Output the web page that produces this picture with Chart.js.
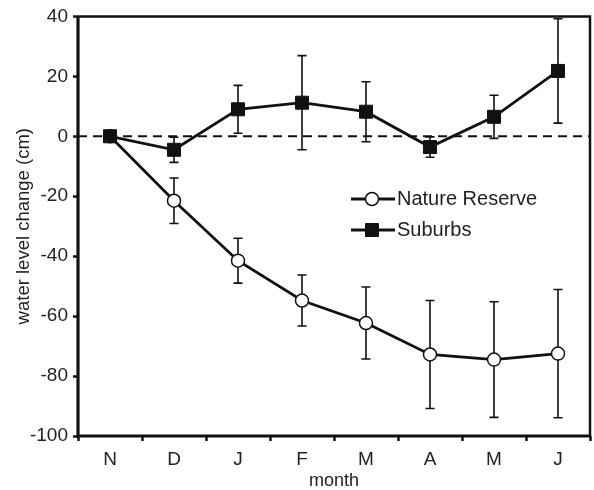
<!DOCTYPE html>
<html>
<head>
<meta charset="utf-8">
<script src="https://cdn.jsdelivr.net/npm/chart.js@4.4.0/dist/chart.umd.min.js"></script>
<style>
  html, body { margin: 0; padding: 0; background: #fff; }
</style>
</head>
<body>
<canvas id="waterChart" width="594" height="490"></canvas>
<script>
const months = ['N', 'D', 'J', 'F', 'M', 'A', 'M', 'J'];
const reserveMean = [0, -21.5, -41.5, -54.8, -62.3, -72.8, -74.5, -72.5];
const reserveErr = [0, 7.6, 7.5, 8.5, 12, 18, 19.3, 21.4];
const suburbsMean = [0, -4.5, 9, 11.2, 8.2, -3.6, 6.5, 21.8];
const suburbsErr = [0, 4.2, 8, 15.7, 10, 3.4, 7.2, 17.4];
const yTicks = [-100, -80, -60, -40, -20, 0, 20, 40];

const FONT = "'Liberation Sans', Arial, sans-serif";
const INK = '#111';

// error bars + dashed zero line behind the points, box and legend on top
const extrasPlugin = {
    id: 'extras',
    beforeDatasetsDraw(chart) {
        const ctx = chart.ctx;
        const area = chart.chartArea;
        const x = chart.scales.x;
        const y = chart.scales.y;

        ctx.save();
        ctx.strokeStyle = INK;
        ctx.lineWidth = 2;
        ctx.setLineDash([9, 6]);
        const y0 = y.getPixelForValue(0);
        ctx.beginPath();
        ctx.moveTo(area.left, y0);
        ctx.lineTo(area.right, y0);
        ctx.stroke();
        ctx.setLineDash([]);

        const sets = [[reserveMean, reserveErr], [suburbsMean, suburbsErr]];
        ctx.lineWidth = 1.6;
        sets.forEach(([mean, err]) => {
            mean.forEach((m, i) => {
                if (!err[i]) return;
                const px = x.getPixelForValue(i);
                const top = y.getPixelForValue(m + err[i]);
                const bot = y.getPixelForValue(m - err[i]);
                ctx.beginPath();
                ctx.moveTo(px, top); ctx.lineTo(px, bot);
                ctx.moveTo(px - 4.5, top); ctx.lineTo(px + 4.5, top);
                ctx.moveTo(px - 4.5, bot); ctx.lineTo(px + 4.5, bot);
                ctx.stroke();
            });
        });
        ctx.restore();
    },
    afterDraw(chart) {
        const ctx = chart.ctx;
        const area = chart.chartArea;
        ctx.save();
        ctx.strokeStyle = INK;
        // thin top/right, heavy left/bottom
        ctx.lineWidth = 2.5;
        ctx.beginPath();
        ctx.moveTo(area.left, area.top);
        ctx.lineTo(area.right, area.top);
        ctx.lineTo(area.right, area.bottom);
        ctx.stroke();
        ctx.lineWidth = 3.2;
        ctx.beginPath();
        ctx.moveTo(area.left, area.top);
        ctx.lineTo(area.left, area.bottom);
        ctx.lineTo(area.right, area.bottom);
        ctx.stroke();

        // legend
        const rows = [
            { ds: chart.data.datasets[0], y: 199 },
            { ds: chart.data.datasets[1], y: 230 }
        ];
        ctx.font = '20px ' + FONT;
        ctx.textBaseline = 'middle';
        ctx.textAlign = 'left';
        rows.forEach(r => {
            ctx.lineWidth = 2.8;
            ctx.strokeStyle = INK;
            ctx.beginPath();
            ctx.moveTo(351, r.y);
            ctx.lineTo(395, r.y);
            ctx.stroke();
            ctx.fillStyle = r.ds.pointBackgroundColor;
            ctx.lineWidth = r.ds.pointBorderWidth;
            ctx.beginPath();
            if (r.ds.pointStyle === 'circle') {
                ctx.arc(372, r.y, r.ds.pointRadius, 0, Math.PI * 2);
            } else {
                const s = r.ds.pointRadius * Math.SQRT1_2;
                ctx.rect(372 - s, r.y - s, 2 * s, 2 * s);
            }
            ctx.fill();
            ctx.stroke();
            ctx.fillStyle = '#222';
            ctx.fillText(r.ds.label, 397, r.y);
        });
        ctx.restore();
    }
};

new Chart(document.getElementById('waterChart'), {
    type: 'line',
    data: {
        labels: months,
        datasets: [
            {
                label: 'Nature Reserve',
                data: reserveMean,
                order: 1,
                borderColor: INK,
                borderWidth: 2.8,
                pointStyle: 'circle',
                pointRadius: 6.5,
                pointBorderWidth: 1.5,
                pointBackgroundColor: '#fff',
                pointBorderColor: INK,
                tension: 0
            },
            {
                label: 'Suburbs',
                data: suburbsMean,
                order: 0,
                borderColor: INK,
                borderWidth: 2.8,
                pointStyle: 'rect',
                pointRadius: 9.2,
                pointBorderWidth: 1,
                pointBackgroundColor: INK,
                pointBorderColor: INK,
                tension: 0
            }
        ]
    },
    options: {
        responsive: false,
        animation: false,
        devicePixelRatio: 1,
        layout: { autoPadding: false, padding: { top: 15, right: 4, left: 0, bottom: 0 } },
        plugins: {
            legend: { display: false },
            tooltip: { enabled: false }
        },
        scales: {
            x: {
                type: 'category',
                offset: true,
                afterFit(scale) {
                    scale.height = 54;
                    scale.paddingLeft = 0;
                    scale.paddingRight = 0;
                },
                grid: {
                    offset: true,
                    drawOnChartArea: false,
                    drawTicks: true,
                    tickLength: 5,
                    tickWidth: 2.5,
                    tickColor: INK
                },
                border: { display: false },
                ticks: { color: '#222', padding: 7, font: { family: FONT, size: 19 } },
                title: {
                    display: true,
                    text: 'month',
                    color: '#222',
                    padding: { top: 0, bottom: 0 },
                    font: { family: FONT, size: 18, lineHeight: 1.0 }
                }
            },
            y: {
                min: -100,
                max: 40,
                afterFit(scale) { scale.width = 78; },
                afterBuildTicks(scale) { scale.ticks = yTicks.map(v => ({ value: v })); },
                grid: {
                    drawOnChartArea: false,
                    drawTicks: true,
                    tickLength: 5,
                    tickWidth: 2.5,
                    tickColor: INK
                },
                border: { display: false },
                ticks: { color: '#222', padding: 5, font: { family: FONT, size: 19 } },
                title: {
                    display: true,
                    text: 'water level change (cm)',
                    color: '#222',
                    padding: { top: 13, bottom: 0 },
                    font: { family: FONT, size: 18.5, lineHeight: 1.2 }
                }
            }
        }
    },
    plugins: [extrasPlugin]
});
</script>
</body>
</html>
